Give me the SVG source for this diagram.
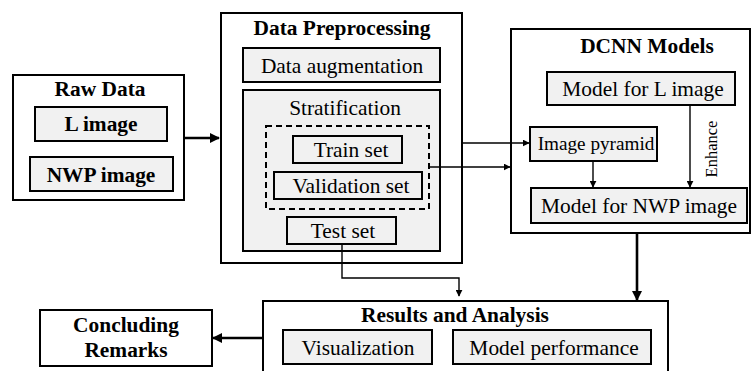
<svg xmlns="http://www.w3.org/2000/svg" width="753" height="371" viewBox="0 0 753 371">
<defs>
<style>
.box{fill:#fff;stroke:#000;stroke-width:2}
.sub{fill:#f1f1f1;stroke:#000;stroke-width:2}
text{font-family:'Liberation Serif','Times New Roman',Times,serif}
.t{font-size:21.4px;fill:#000;text-anchor:middle}
.b{font-weight:bold}
.ln{fill:none;stroke:#000;stroke-width:1.4}
.thick{fill:none;stroke:#000;stroke-width:2.6}
</style>
<marker id="ah" viewBox="0 0 10 10" refX="9" refY="5" markerWidth="7" markerHeight="7" markerUnits="userSpaceOnUse" orient="auto"><path d="M0,0 L10,5 L0,10 z" fill="#000"/></marker>
<marker id="ahb" viewBox="0 0 10 10" refX="9" refY="5" markerWidth="10" markerHeight="10" markerUnits="userSpaceOnUse" orient="auto"><path d="M0,0 L10,5 L0,10 z" fill="#000"/></marker>
</defs>
<g id="raw-data">
<rect class="box" x="13" y="75" width="171" height="125"/>
<text class="t b" x="100" y="96">Raw Data</text>
<rect class="sub" x="35" y="107" width="132" height="34"/>
<text class="t b" x="101" y="131">L image</text>
<rect class="sub" x="30" y="157" width="143" height="34"/>
<text class="t b" x="101" y="182">NWP image</text>
</g>
<g id="data-preprocessing">
<rect class="box" x="221" y="13" width="241" height="250"/>
<text class="t b" x="342" y="35">Data Preprocessing</text>
<rect class="sub" x="243" y="48" width="197" height="34"/>
<text class="t" x="342" y="73">Data augmentation</text>
<rect class="sub" x="243" y="90" width="197" height="161"/>
<text class="t" x="345" y="115">Stratification</text>
<rect x="266" y="126" width="163" height="83" fill="none" stroke="#000" stroke-width="2" stroke-dasharray="6,4"/>
<rect class="sub" x="293" y="136" width="109" height="27"/>
<text class="t" x="351" y="157">Train set</text>
<rect class="sub" x="274" y="172" width="148" height="27"/>
<text class="t" x="351" y="193">Validation set</text>
<rect class="sub" x="287" y="217" width="109" height="27"/>
<text class="t" x="343" y="238">Test set</text>
</g>
<g id="dcnn-models">
<rect class="box" x="511" y="29" width="239" height="204"/>
<text class="t b" x="647" y="53">DCNN Models</text>
<rect class="sub" x="547" y="72" width="188" height="33"/>
<text class="t" x="643" y="96">Model for L image</text>
<rect class="sub" x="530" y="127" width="127" height="34"/>
<text class="t" x="596" y="150" style="font-size:19.2px">Image pyramid</text>
<rect class="sub" x="531" y="188" width="216" height="35"/>
<text class="t" x="639" y="213">Model for NWP image</text>
<text class="t" transform="translate(717,149) rotate(-90)" style="font-size:16.5px">Enhance</text>
</g>
<g id="results-analysis">
<rect class="box" x="263" y="301" width="405" height="80"/>
<text class="t b" x="455" y="322">Results and Analysis</text>
<rect class="sub" x="283" y="330" width="149" height="34"/>
<text class="t" x="358" y="355">Visualization</text>
<rect class="sub" x="453" y="330" width="198" height="34"/>
<text class="t" x="554" y="355">Model performance</text>
</g>
<g id="concluding-remarks">
<rect class="box" x="40" y="310" width="172" height="56"/>
<text class="t b" x="126" y="332">Concluding</text>
<text class="t b" x="126" y="357">Remarks</text>
</g>
<g id="connectors">
<path class="thick" d="M184,138 L219,138" marker-end="url(#ahb)"/>
<path class="ln" d="M462,143 L529,143" marker-end="url(#ah)"/>
<path class="ln" d="M429,167 L510,167" marker-end="url(#ah)"/>
<path class="ln" d="M593,161 L593,187" marker-end="url(#ah)"/>
<path class="ln" d="M690,105 L690,187" marker-end="url(#ah)"/>
<path class="ln" d="M342,244 L342,278 L459,278 L459,296" marker-end="url(#ah)"/>
<path class="thick" d="M637,233 L637,300" marker-end="url(#ahb)"/>
<path class="thick" d="M263,338 L213,338" marker-end="url(#ahb)"/>
</g>
</svg>
